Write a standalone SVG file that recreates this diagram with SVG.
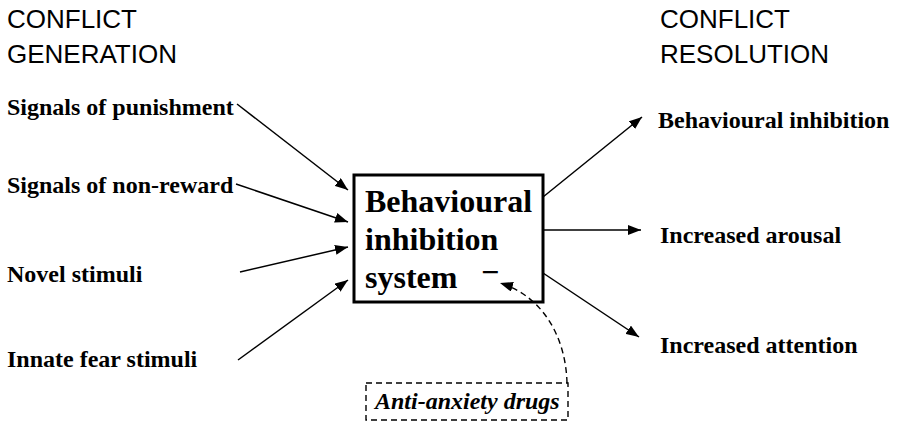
<svg xmlns="http://www.w3.org/2000/svg" width="898" height="421" viewBox="0 0 898 421">
<defs>
<style>
.hdr{font-family:"Liberation Sans",Arial,sans-serif;font-size:26px;fill:#000}
.lbl{font-family:"Liberation Serif","Times New Roman",serif;font-size:24px;font-weight:bold;fill:#000}
.big{font-family:"Liberation Serif","Times New Roman",serif;font-size:32px;font-weight:bold;fill:#000}
.drug{font-family:"Liberation Serif","Times New Roman",serif;font-size:24px;font-weight:bold;font-style:italic;fill:#000}
.ln{stroke:#000;stroke-width:1.5;fill:none;marker-end:url(#ah)}
.dash{stroke:#000;stroke-width:1.4;fill:none;stroke-dasharray:6 4}
</style>
<marker id="ah" viewBox="0 0 13 10" refX="13" refY="5" markerWidth="13" markerHeight="10" markerUnits="userSpaceOnUse" orient="auto">
<path d="M0,0 L13,5 L0,10 z" fill="#000"/>
</marker>
</defs>
<rect width="898" height="421" fill="#fff"/>
<g id="header-generation">
<text class="hdr" x="7" y="28">CONFLICT</text>
<text class="hdr" x="7" y="63">GENERATION</text>
</g>
<g id="header-resolution">
<text class="hdr" x="660" y="28">CONFLICT</text>
<text class="hdr" x="660" y="63">RESOLUTION</text>
</g>
<g id="in-punishment"><text class="lbl" x="7" y="115">Signals of punishment</text></g>
<g id="in-nonreward"><text class="lbl" x="7" y="193">Signals of non-reward</text></g>
<g id="in-novel"><text class="lbl" x="7" y="282">Novel stimuli</text></g>
<g id="in-innate"><text class="lbl" x="7" y="367">Innate fear stimuli</text></g>
<g id="bis">
<rect x="354" y="175" width="189" height="127" fill="#fff" stroke="#000" stroke-width="3"/>
<text class="big" x="365" y="212">Behavioural</text>
<text class="big" x="365" y="250">inhibition</text>
<text class="big" x="365" y="288">system</text>
<text class="big" x="481" y="283">−</text>
</g>
<g id="out-inhibition"><text class="lbl" x="658" y="128">Behavioural inhibition</text></g>
<g id="out-arousal"><text class="lbl" x="660" y="243">Increased arousal</text></g>
<g id="out-attention"><text class="lbl" x="660" y="353">Increased attention</text></g>
<g id="drugs">
<rect x="366" y="383" width="202" height="37" fill="none" class="dash"/>
<text class="drug" x="375" y="409">Anti-anxiety drugs</text>
</g>
<g id="connectors">
<line class="ln" x1="237" y1="104" x2="348" y2="190"/>
<line class="ln" x1="236" y1="184" x2="348" y2="222"/>
<line class="ln" x1="240" y1="272" x2="348" y2="247"/>
<line class="ln" x1="238" y1="360" x2="348" y2="280"/>
<line class="ln" x1="543" y1="197" x2="642" y2="117"/>
<line class="ln" x1="543" y1="230" x2="641" y2="230"/>
<line class="ln" x1="543" y1="273" x2="639" y2="337"/>
<path class="dash" d="M567,383 C566,340 545,297 500,283" marker-end="url(#ah)"/>
</g>
</svg>
